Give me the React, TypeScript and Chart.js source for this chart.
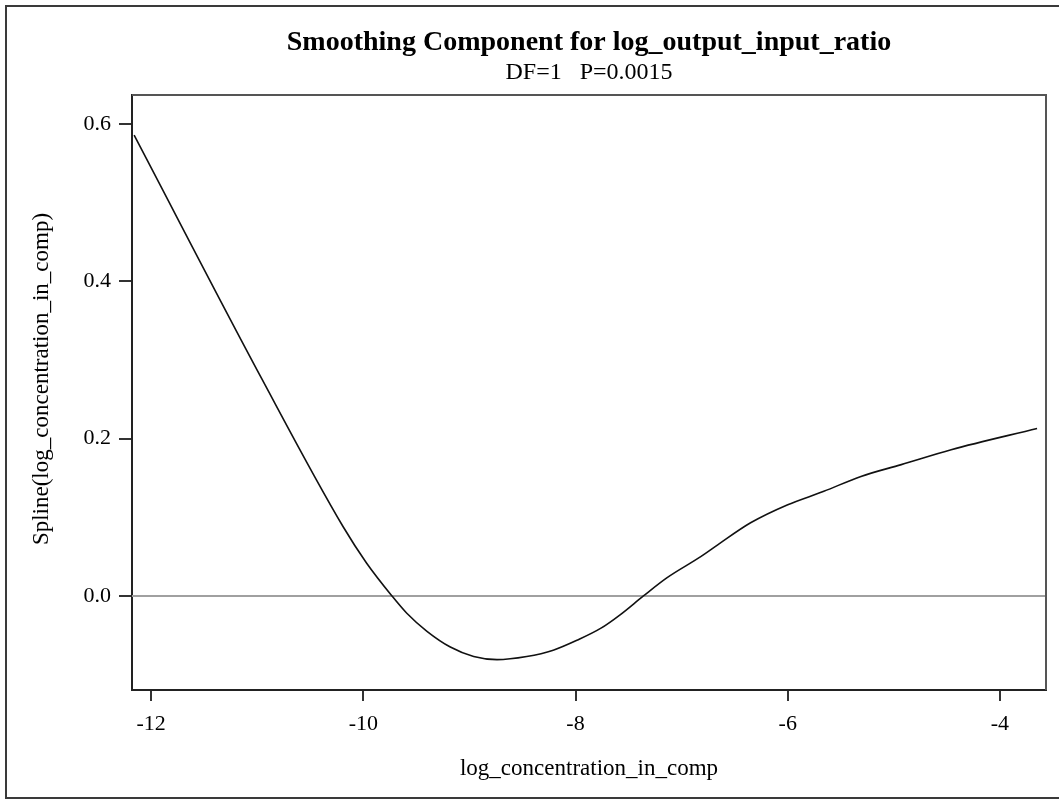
import React, { useEffect, useRef } from "react";
import { Chart, registerables } from "chart.js";

Chart.register(...registerables);

// Fitted spline component (x: log concentration, y: spline value)
const X_VALUES = [-12.16, -10.96, -10.19, -9.97, -9.73, -9.59, -9.4, -9.18, -8.96, -8.74, -8.46, -8.21, -7.98, -7.76, -7.58, -7.36, -7.14, -6.82, -6.66, -6.35, -6.0, -5.66, -5.31, -4.93, -4.46, -3.65];
const Y_VALUES = [0.586, 0.277, 0.088, 0.042, 0.0, -0.022, -0.045, -0.065, -0.077, -0.081, -0.077, -0.069, -0.056, -0.041, -0.024, 0.0, 0.023, 0.05, 0.065, 0.093, 0.116, 0.133, 0.152, 0.167, 0.186, 0.213];

const X_TICKS = [-12, -10, -8, -6, -4];
const Y_TICKS = [0, 0.2, 0.4, 0.6];
const X_RANGE = [-12.18, -3.566];
const Y_RANGE = [-0.1196, 0.637];
const REFERENCE_Y = 0;

const TITLE = "Smoothing Component for log_output_input_ratio";
const SUBTITLE = "DF=1   P=0.0015";
const X_TITLE = "log_concentration_in_comp";
const Y_TITLE = "Spline(log_concentration_in_comp)";

const SERIF = "'Liberation Serif', 'Times New Roman', serif";

const decorPlugin = {
  id: "decor",
  beforeDatasetsDraw(chart: any) {
    const { ctx, chartArea, scales } = chart;
    const y0 = scales.y.getPixelForValue(REFERENCE_Y);
    ctx.save();
    ctx.strokeStyle = "#a0a0a0";
    ctx.lineWidth = 2;
    ctx.beginPath();
    ctx.moveTo(chartArea.left, y0);
    ctx.lineTo(chartArea.right, y0);
    ctx.stroke();
    ctx.restore();
  },
  afterDraw(chart: any) {
    const { ctx, chartArea } = chart;
    ctx.save();
    // outer frame of the graph
    ctx.strokeStyle = "#3a3a3a";
    ctx.lineWidth = 2;
    ctx.strokeRect(6, 6, 1200, 792);
    // top and right edges of the plot wall
    ctx.strokeStyle = "#555";
    ctx.lineWidth = 2;
    ctx.beginPath();
    ctx.moveTo(chartArea.left, chartArea.top);
    ctx.lineTo(chartArea.right, chartArea.top);
    ctx.lineTo(chartArea.right, chartArea.bottom);
    ctx.stroke();

    const cx = (chartArea.left + chartArea.right) / 2;
    ctx.fillStyle = "#000";
    ctx.textAlign = "center";
    ctx.textBaseline = "alphabetic";
    ctx.font = `bold 28px ${SERIF}`;
    ctx.fillText(TITLE, cx, 50);
    ctx.font = `24px ${SERIF}`;
    ctx.fillText(SUBTITLE, cx, 79);

    ctx.font = `23px ${SERIF}`;
    ctx.fillText(X_TITLE, cx, 775);

    ctx.translate(48, 379);
    ctx.rotate(-Math.PI / 2);
    ctx.fillText(Y_TITLE, 0, 0);
    ctx.restore();
  },
};

export default function App() {
  const canvasRef = useRef<HTMLCanvasElement | null>(null);

  useEffect(() => {
    const canvas = canvasRef.current;
    if (!canvas) return;
    const points = X_VALUES.map((x, i) => ({ x, y: Y_VALUES[i] }));
    const chart = new Chart(canvas, {
      type: "scatter",
      data: {
        datasets: [
          {
            data: points,
            showLine: true,
            borderColor: "#111",
            borderWidth: 1.6,
            pointRadius: 0,
            cubicInterpolationMode: "monotone",
            fill: false,
          },
        ],
      },
      options: {
        responsive: false,
        animation: false,
        devicePixelRatio: 1,
        layout: { padding: { left: 0, top: 95, right: 13, bottom: 0 } },
        plugins: {
          legend: { display: false },
          tooltip: { enabled: false },
          title: { display: false },
        },
        scales: {
          x: {
            type: "linear",
            min: X_RANGE[0],
            max: X_RANGE[1],
            afterBuildTicks: (scale: any) => {
              scale.ticks = X_TICKS.map((v) => ({ value: v }));
            },
            afterFit: (scale: any) => {
              scale.height = 110;
            },
            ticks: {
              font: { family: SERIF, size: 22 },
              color: "#000",
              padding: 10,
              maxRotation: 0,
              callback: (v: any) => String(v),
            },
            grid: { drawOnChartArea: false, tickLength: 11, color: "#333", lineWidth: 2 },
            border: { display: true, color: "#222", width: 2 },
          },
          y: {
            type: "linear",
            min: Y_RANGE[0],
            max: Y_RANGE[1],
            afterBuildTicks: (scale: any) => {
              scale.ticks = Y_TICKS.map((v) => ({ value: v }));
            },
            afterFit: (scale: any) => {
              scale.width = 132;
            },
            ticks: {
              font: { family: SERIF, size: 22 },
              color: "#000",
              padding: 8,
              callback: (v: any) => Number(v).toFixed(1),
            },
            grid: { drawOnChartArea: false, tickLength: 13, color: "#333", lineWidth: 2 },
            border: { display: true, color: "#222", width: 2 },
          },
        },
      },
      plugins: [decorPlugin],
    });
    return () => chart.destroy();
  }, []);

  return (
    <div style={{ position: "absolute", left: 0, top: 0, width: 1059, height: 800, background: "#fff" }}>
      <canvas ref={canvasRef} width={1059} height={800} style={{ display: "block" }} />
    </div>
  );
}
